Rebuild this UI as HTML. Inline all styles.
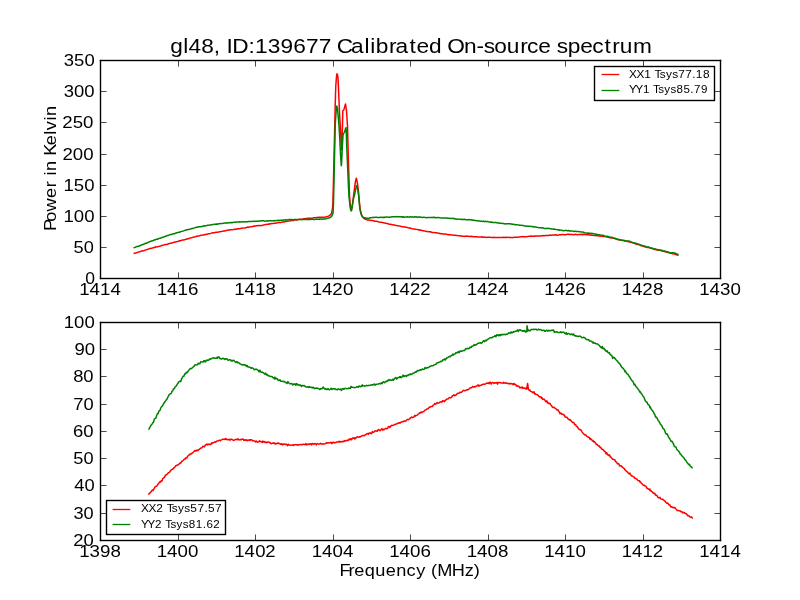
<!DOCTYPE html>
<html><head><meta charset="utf-8"><title>gl48 spectrum</title>
<style>html,body{margin:0;padding:0;background:#fff;}svg{display:block;will-change:transform;}text{font-family:"Liberation Sans",sans-serif;fill:#000;}</style>
</head><body>
<svg width="800" height="600" viewBox="0 0 800 600">
<rect width="800" height="600" fill="#fff"/>
<g fill="none" stroke-width="1.5" stroke-linejoin="round" stroke-linecap="butt">
<path stroke="#f00" d="M133.50,253.45 L134.50,253.25 L135.50,252.95 L136.50,252.72 L137.50,252.36 L138.50,252.00 L139.50,251.81 L140.50,251.38 L141.50,251.04 L142.50,251.03 L143.50,250.67 L144.50,250.42 L145.50,249.89 L146.50,249.75 L147.50,249.41 L148.50,249.06 L149.50,248.58 L150.50,248.50 L151.50,248.34 L152.50,247.99 L153.50,247.61 L154.50,247.42 L155.00,247.39 L155.50,246.85 L156.50,246.90 L157.50,246.71 L158.50,246.45 L159.50,246.30 L160.50,245.96 L161.50,245.59 L162.50,245.33 L163.50,245.13 L164.50,244.71 L165.50,244.52 L166.50,244.39 L167.50,244.26 L168.50,243.75 L169.50,243.51 L170.50,243.27 L171.50,243.14 L172.50,242.70 L173.50,242.62 L174.50,242.06 L175.50,241.90 L176.50,241.64 L177.50,241.51 L178.50,241.30 L179.50,240.75 L180.00,240.70 L180.50,240.72 L181.50,240.34 L182.50,239.97 L183.50,240.02 L184.50,239.69 L185.50,239.43 L186.50,239.05 L187.50,238.97 L188.50,238.55 L189.50,238.43 L190.50,237.91 L191.50,237.63 L192.50,237.47 L193.50,237.09 L194.50,236.99 L195.50,236.69 L196.50,236.30 L197.50,236.18 L198.50,235.88 L199.50,235.78 L200.50,235.35 L201.50,235.14 L202.50,235.12 L203.50,235.04 L204.50,234.82 L205.00,234.51 L205.50,234.44 L206.50,234.40 L207.50,234.00 L208.50,233.70 L209.50,233.63 L210.50,233.46 L211.50,233.11 L212.50,232.81 L213.50,232.64 L214.50,232.70 L215.50,232.36 L216.50,232.26 L217.50,232.15 L218.50,232.04 L219.50,231.77 L220.50,231.71 L221.50,231.37 L222.50,231.25 L223.50,230.98 L224.50,231.04 L225.50,230.69 L226.50,230.40 L227.50,230.25 L228.50,230.08 L229.50,230.03 L230.00,229.69 L230.50,229.70 L231.50,229.65 L232.50,229.87 L233.50,229.55 L234.50,229.28 L235.50,229.23 L236.50,229.24 L237.50,228.81 L238.50,228.64 L239.50,228.67 L240.50,228.42 L241.50,228.28 L242.50,227.99 L243.50,228.12 L244.50,227.95 L245.50,227.67 L246.50,227.54 L247.50,227.07 L248.50,227.23 L249.50,226.96 L250.50,226.86 L251.50,226.72 L252.50,226.43 L253.50,226.10 L254.50,226.20 L255.00,226.01 L255.50,226.00 L256.50,225.85 L257.50,225.76 L258.50,225.40 L259.50,225.70 L260.50,225.46 L261.50,225.43 L262.50,225.39 L263.50,225.01 L264.50,224.63 L265.50,224.58 L266.50,224.38 L267.50,224.29 L268.50,224.19 L269.50,223.78 L270.50,223.91 L271.50,223.53 L272.50,223.61 L273.50,223.42 L274.50,223.26 L275.50,223.15 L276.50,222.94 L277.50,222.78 L278.50,222.48 L279.50,222.51 L280.00,222.65 L280.50,222.58 L281.50,222.34 L282.50,222.11 L283.50,221.79 L284.50,221.90 L285.50,221.57 L286.50,221.42 L287.50,221.24 L288.50,221.12 L289.50,220.89 L290.50,220.76 L291.50,220.47 L292.50,220.39 L293.50,220.55 L294.50,220.12 L295.50,219.96 L296.50,219.90 L297.50,219.78 L298.50,219.41 L299.50,219.37 L300.50,219.36 L301.50,219.15 L302.50,219.01 L303.50,219.07 L304.50,218.69 L305.00,218.73 L305.50,218.60 L306.50,218.74 L307.50,218.22 L308.50,218.27 L309.50,218.19 L310.50,218.23 L311.50,218.13 L312.50,218.13 L313.50,217.67 L314.50,217.85 L315.50,217.63 L316.50,217.50 L317.50,217.57 L318.50,217.33 L319.50,217.13 L320.00,217.32 L320.50,217.16 L321.50,217.22 L322.50,217.30 L323.50,217.24 L324.50,217.34 L325.50,217.05 L326.00,216.85 L326.50,216.87 L327.50,216.56 L328.50,216.10 L329.00,216.03 L329.50,215.59 L330.50,214.63 L331.50,213.54 L332.50,208.03 L332.80,204.94 L333.50,179.63 L333.70,170.95 L334.50,136.87 L335.20,106.02 L335.50,94.30 L335.80,85.91 L336.50,76.43 L337.00,73.67 L337.50,74.95 L338.00,77.81 L338.50,88.05 L338.80,95.69 L339.50,112.03 L339.70,115.89 L340.30,125.74 L340.50,129.96 L341.50,149.85 L342.50,125.88 L342.80,110.82 L343.50,110.23 L343.80,109.89 L344.50,107.49 L345.50,103.93 L346.50,111.02 L347.50,126.14 L348.40,160.32 L348.50,163.50 L349.50,195.92 L350.50,207.41 L351.20,210.56 L351.50,209.91 L352.50,204.11 L353.50,196.10 L353.70,194.62 L354.50,188.56 L355.50,181.07 L356.30,178.25 L356.50,178.48 L357.50,183.62 L358.50,191.78 L359.50,203.28 L360.00,207.62 L360.50,210.39 L361.50,214.56 L362.50,216.89 L362.60,216.98 L363.50,217.89 L364.50,218.89 L365.50,219.29 L366.00,219.40 L366.50,219.58 L367.50,220.07 L368.50,220.08 L369.50,220.32 L370.50,220.24 L371.50,220.53 L372.50,220.50 L373.50,220.74 L374.50,221.26 L375.50,221.27 L376.50,221.33 L377.50,221.59 L378.50,221.85 L379.50,222.15 L380.50,222.13 L381.50,222.16 L382.50,222.51 L383.50,222.74 L384.50,222.95 L385.00,223.20 L385.50,223.20 L386.50,223.48 L387.50,223.48 L388.50,223.93 L389.50,224.30 L390.50,224.34 L391.50,224.48 L392.50,224.66 L393.50,225.06 L394.50,224.95 L395.50,225.26 L396.50,225.54 L397.50,225.78 L398.50,225.84 L399.50,226.13 L400.50,226.25 L401.50,226.49 L402.50,226.65 L403.50,226.73 L404.50,227.06 L405.50,227.37 L406.50,227.34 L407.50,227.62 L408.50,227.92 L409.50,227.91 L410.00,228.15 L410.50,228.08 L411.50,228.54 L412.50,228.87 L413.50,229.03 L414.50,228.95 L415.50,229.26 L416.50,229.38 L417.50,229.57 L418.50,229.94 L419.50,229.79 L420.50,230.28 L421.50,230.36 L422.50,230.74 L423.50,230.80 L424.50,230.89 L425.50,231.19 L426.50,231.43 L427.50,231.51 L428.50,231.73 L429.50,231.78 L430.50,231.76 L431.50,232.28 L432.50,232.41 L433.50,232.49 L434.50,232.61 L435.00,232.79 L435.50,232.67 L436.50,232.80 L437.50,233.03 L438.50,233.37 L439.50,233.24 L440.50,233.72 L441.50,233.67 L442.50,233.75 L443.50,234.16 L444.50,234.11 L445.50,234.07 L446.50,234.28 L447.50,234.54 L448.50,234.68 L449.50,234.60 L450.50,234.81 L451.50,234.96 L452.50,234.92 L453.50,235.15 L454.50,235.22 L455.50,235.28 L456.50,235.41 L457.50,235.59 L458.50,235.70 L459.50,235.73 L460.00,235.80 L460.50,236.04 L461.50,236.01 L462.50,236.15 L463.50,236.23 L464.50,236.18 L465.50,236.41 L466.50,236.07 L467.50,236.31 L468.50,236.23 L469.50,236.55 L470.50,236.60 L471.50,236.24 L472.50,236.43 L473.50,236.70 L474.50,236.80 L475.50,236.87 L476.50,236.83 L477.50,236.95 L478.50,237.01 L479.50,236.96 L480.50,237.13 L481.50,236.78 L482.50,237.18 L483.50,237.05 L484.50,237.35 L485.00,237.25 L485.50,237.20 L486.50,237.39 L487.50,237.25 L488.50,237.25 L489.50,237.17 L490.50,237.35 L491.50,237.41 L492.50,237.48 L493.50,237.36 L494.50,237.53 L495.50,237.43 L496.50,237.43 L497.50,237.52 L498.50,237.58 L499.50,237.41 L500.50,237.42 L501.50,237.43 L502.50,237.45 L503.50,237.31 L504.50,237.52 L505.50,237.33 L506.50,237.41 L507.50,237.24 L508.50,237.38 L509.50,237.38 L510.00,237.29 L510.50,237.59 L511.50,237.38 L512.50,237.53 L513.50,237.40 L514.50,237.18 L515.50,237.18 L516.50,237.24 L517.50,237.14 L518.50,237.08 L519.50,236.98 L520.50,236.74 L521.50,236.88 L522.50,236.59 L523.50,236.86 L524.50,236.68 L525.50,236.63 L526.50,236.63 L527.50,236.62 L528.50,236.35 L529.50,236.24 L530.50,236.25 L531.50,236.07 L532.50,236.14 L533.50,236.39 L534.50,236.02 L535.00,236.20 L535.50,235.94 L536.50,236.09 L537.50,235.96 L538.50,235.94 L539.50,235.96 L540.50,236.05 L541.50,235.80 L542.50,235.73 L543.50,235.53 L544.50,235.65 L545.50,235.48 L546.50,235.55 L547.50,235.39 L548.50,235.55 L549.50,235.05 L550.50,235.20 L551.50,235.30 L552.50,235.10 L553.50,235.00 L554.50,235.01 L555.50,234.82 L556.50,234.94 L557.50,235.16 L558.50,234.96 L559.50,234.64 L560.00,234.64 L560.50,234.68 L561.50,234.80 L562.50,234.54 L563.50,234.52 L564.50,234.67 L565.50,234.64 L566.50,234.47 L567.50,234.37 L568.50,234.31 L568.75,234.41 L569.50,234.21 L570.50,234.56 L571.50,234.38 L572.50,234.51 L573.50,234.68 L574.50,234.61 L575.50,234.35 L576.50,234.60 L577.50,234.65 L578.50,234.42 L579.50,234.40 L580.50,234.50 L581.50,234.32 L582.50,234.71 L583.50,234.27 L584.50,234.47 L585.50,234.62 L586.25,234.66 L586.50,234.72 L587.50,234.81 L588.50,234.84 L589.50,235.10 L590.50,234.83 L591.50,235.21 L592.50,235.24 L593.50,235.46 L594.50,235.58 L595.00,235.49 L595.50,235.57 L596.50,235.82 L597.50,235.84 L598.50,235.77 L599.50,236.15 L600.50,236.24 L601.50,235.87 L602.00,236.12 L602.50,236.45 L603.50,236.39 L604.50,236.50 L605.50,236.65 L606.50,236.83 L607.50,237.10 L608.50,237.29 L609.50,237.66 L610.50,237.73 L611.50,237.92 L612.50,238.03 L613.50,238.37 L614.50,238.51 L615.50,238.85 L616.50,239.27 L617.50,239.46 L618.50,239.74 L619.50,239.96 L620.00,240.03 L620.50,240.11 L621.50,240.29 L622.50,240.61 L623.50,240.58 L624.50,241.05 L625.50,241.08 L626.50,241.17 L627.50,241.40 L628.50,241.60 L628.75,241.76 L629.50,241.84 L630.50,242.35 L631.50,242.42 L632.50,242.55 L633.50,243.06 L634.50,243.22 L635.50,243.77 L636.50,244.22 L637.50,244.47 L638.50,244.54 L639.50,244.92 L640.50,245.54 L641.50,245.68 L642.50,245.96 L643.50,246.39 L644.50,246.86 L645.50,247.01 L646.25,247.09 L646.50,247.19 L647.50,247.50 L648.50,247.62 L649.50,247.82 L650.50,248.21 L651.50,248.34 L652.50,248.69 L653.50,248.96 L654.50,249.49 L655.00,249.23 L655.50,249.45 L656.50,249.69 L657.50,250.01 L658.50,250.31 L659.50,250.34 L660.50,250.52 L661.50,250.63 L662.50,250.94 L663.50,251.36 L663.75,251.37 L664.50,251.46 L665.50,251.81 L666.50,252.14 L667.50,252.48 L668.50,252.61 L669.50,252.90 L670.50,252.95 L671.50,253.26 L672.50,253.82 L673.50,253.62 L674.50,254.11 L675.50,254.47 L676.50,254.70 L677.50,254.97 L678.50,255.38 L678.60,255.42"/>
<path stroke="#008000" d="M133.50,247.85 L134.50,247.63 L135.50,247.20 L136.50,246.51 L137.50,246.46 L138.50,246.19 L139.50,245.79 L140.50,245.54 L141.50,244.96 L142.50,244.55 L143.50,244.47 L144.50,243.79 L145.50,243.23 L146.50,243.30 L147.50,242.63 L148.50,242.28 L149.50,241.71 L150.50,241.33 L151.50,240.97 L152.50,240.72 L153.50,240.49 L154.50,239.75 L155.00,240.06 L155.50,239.62 L156.50,239.31 L157.50,239.23 L158.50,238.78 L159.50,238.21 L160.50,238.37 L161.50,237.61 L162.50,237.41 L163.50,237.03 L164.50,236.84 L165.50,236.19 L166.50,236.04 L167.50,235.43 L168.50,235.38 L169.50,234.79 L170.50,234.54 L171.50,234.58 L172.50,234.04 L173.50,233.71 L174.50,233.73 L175.50,233.16 L176.50,232.71 L177.50,232.68 L178.50,232.13 L179.50,232.22 L180.00,232.10 L180.50,231.69 L181.50,231.38 L182.50,231.19 L183.50,230.85 L184.50,230.40 L185.50,230.35 L186.50,229.68 L187.50,229.66 L188.50,229.42 L189.50,229.19 L190.50,229.04 L191.50,228.56 L192.50,228.57 L193.50,228.19 L194.50,227.84 L195.50,227.46 L196.50,227.22 L197.50,227.20 L198.50,226.78 L199.50,226.73 L200.50,226.69 L201.50,226.51 L202.50,226.41 L203.50,225.96 L204.50,225.66 L205.00,225.89 L205.50,225.70 L206.50,225.65 L207.50,225.31 L208.50,225.33 L209.50,225.11 L210.50,224.94 L211.50,224.76 L212.50,224.61 L213.50,224.46 L214.50,224.34 L215.50,224.33 L216.50,223.99 L217.50,224.21 L218.50,223.81 L219.50,223.85 L220.50,223.56 L221.50,223.42 L222.50,223.64 L223.50,223.17 L224.50,222.91 L225.50,222.88 L226.50,222.84 L227.50,223.13 L228.50,222.76 L229.50,222.80 L230.00,222.48 L230.50,222.65 L231.50,222.60 L232.50,222.67 L233.50,222.19 L234.50,222.30 L235.50,222.18 L236.50,221.93 L237.50,222.05 L238.50,222.00 L239.50,221.68 L240.50,222.09 L241.50,222.04 L242.50,221.84 L243.50,221.64 L244.50,221.99 L245.50,221.74 L246.50,221.79 L247.50,221.79 L248.50,221.45 L249.50,221.60 L250.50,221.39 L251.50,221.38 L252.50,221.33 L253.50,221.31 L254.50,221.44 L255.00,221.27 L255.50,221.21 L256.50,221.13 L257.50,221.17 L258.50,220.92 L259.50,220.93 L260.50,220.94 L261.50,220.83 L262.50,220.87 L263.50,220.78 L264.50,221.16 L265.50,221.04 L266.50,220.89 L267.50,220.79 L268.50,221.10 L269.50,220.78 L270.50,220.69 L271.50,220.72 L272.50,220.70 L273.50,220.84 L274.50,220.60 L275.50,220.89 L276.50,220.39 L277.50,220.57 L278.50,220.25 L279.50,220.61 L280.00,220.25 L280.50,220.26 L281.50,220.36 L282.50,220.36 L283.50,219.95 L284.50,220.00 L285.50,219.77 L286.50,219.92 L287.50,219.81 L288.50,219.70 L289.50,219.59 L290.50,219.58 L291.50,219.49 L292.50,219.67 L293.50,219.81 L294.50,219.31 L295.50,219.60 L296.50,219.57 L297.50,219.71 L298.50,219.49 L299.50,219.60 L300.50,219.44 L301.50,219.68 L302.50,219.56 L303.50,219.48 L304.50,219.52 L305.00,219.40 L305.50,219.18 L306.50,219.48 L307.50,219.42 L308.50,219.35 L309.50,219.52 L310.50,219.56 L311.50,219.22 L312.50,219.26 L313.50,219.60 L314.50,219.55 L315.50,219.20 L316.50,219.11 L317.50,219.16 L318.50,219.17 L319.50,219.00 L320.00,219.26 L320.50,219.08 L321.50,219.06 L322.50,219.32 L323.50,218.98 L324.50,218.94 L325.50,218.88 L326.00,218.82 L326.50,218.53 L327.50,218.37 L328.50,217.95 L329.50,217.97 L330.50,217.31 L331.50,216.40 L332.50,214.71 L333.10,212.24 L333.50,202.80 L334.20,171.45 L334.50,156.94 L335.20,126.06 L335.50,120.17 L336.50,106.74 L336.80,105.99 L337.50,108.80 L338.50,119.89 L339.00,125.87 L339.50,133.84 L340.30,149.82 L340.50,153.82 L341.30,165.74 L341.50,164.45 L342.20,150.03 L342.50,143.68 L343.00,135.34 L343.50,133.67 L344.50,132.12 L345.50,128.62 L346.10,127.58 L346.50,138.29 L346.70,145.33 L347.50,164.44 L347.80,170.71 L348.50,187.74 L349.00,196.57 L349.50,201.49 L350.50,209.17 L351.20,210.85 L351.50,210.75 L352.50,204.64 L353.20,200.13 L353.50,198.61 L354.50,195.13 L354.60,195.02 L355.50,190.05 L356.50,185.63 L356.60,185.69 L357.50,188.13 L358.50,194.95 L358.70,196.39 L359.50,205.45 L360.00,209.61 L360.50,212.09 L361.50,215.32 L362.50,216.60 L362.60,216.67 L363.50,217.51 L364.50,217.84 L365.50,217.87 L366.00,218.41 L366.50,218.34 L367.50,218.19 L368.50,218.45 L369.50,217.99 L370.50,217.67 L371.50,217.64 L372.50,217.38 L373.50,217.37 L374.50,217.51 L375.50,217.34 L376.50,217.32 L377.50,217.61 L378.50,217.45 L379.50,217.41 L380.50,217.34 L381.50,217.32 L382.50,217.46 L383.50,217.25 L384.50,217.54 L385.00,217.12 L385.50,217.22 L386.50,217.00 L387.50,217.10 L388.50,217.17 L389.50,217.24 L390.50,216.88 L391.50,216.94 L392.50,216.85 L393.50,216.77 L394.50,216.68 L395.50,216.85 L396.50,216.58 L397.50,216.86 L398.50,216.86 L399.50,216.78 L400.50,216.74 L401.50,216.71 L402.50,217.22 L403.50,216.77 L404.50,217.23 L405.50,217.11 L406.50,216.96 L407.50,216.82 L408.50,217.11 L409.50,217.16 L410.00,216.72 L410.50,216.78 L411.50,216.97 L412.50,216.87 L413.50,217.15 L414.50,216.81 L415.50,217.02 L416.50,216.81 L417.50,217.38 L418.50,217.02 L419.50,216.86 L420.50,217.23 L421.50,217.27 L422.50,217.62 L423.50,217.30 L424.50,217.37 L425.50,217.49 L426.50,217.66 L427.50,217.43 L428.50,217.62 L429.50,217.55 L430.50,217.43 L431.50,217.48 L432.50,217.46 L433.50,217.32 L434.50,217.64 L435.00,217.25 L435.50,217.65 L436.50,217.68 L437.50,217.58 L438.50,217.56 L439.50,217.71 L440.50,217.88 L441.50,217.98 L442.50,217.96 L443.50,218.11 L444.50,217.92 L445.50,218.08 L446.50,217.87 L447.50,218.28 L448.50,218.26 L449.50,218.26 L450.50,218.58 L451.50,218.60 L452.50,218.16 L453.50,218.68 L454.50,218.55 L455.50,219.02 L456.50,219.32 L457.50,218.95 L458.50,219.13 L459.50,219.16 L460.00,219.28 L460.50,219.35 L461.50,219.51 L462.50,219.23 L463.50,219.66 L464.50,219.32 L465.50,219.54 L466.50,219.71 L467.50,219.70 L468.50,219.52 L469.50,219.65 L470.50,219.78 L471.50,219.96 L472.50,220.26 L473.50,220.01 L474.50,220.41 L475.50,220.55 L476.50,220.67 L477.50,220.77 L478.50,221.05 L479.50,221.01 L480.50,221.19 L481.50,221.26 L482.50,221.55 L483.50,221.11 L484.50,221.69 L485.00,221.50 L485.50,221.55 L486.50,221.55 L487.50,221.51 L488.50,221.84 L489.50,221.89 L490.50,222.17 L491.50,221.97 L492.50,222.50 L493.50,222.43 L494.50,222.46 L495.50,222.52 L496.50,222.65 L497.50,222.75 L498.50,222.98 L499.50,223.21 L500.50,223.31 L501.50,223.23 L502.50,223.49 L503.50,223.47 L504.50,223.69 L505.50,224.00 L506.50,223.86 L507.50,223.77 L508.50,223.63 L509.50,223.73 L510.00,223.71 L510.50,224.11 L511.50,223.99 L512.50,224.23 L513.50,224.25 L514.50,224.49 L515.50,224.83 L516.50,224.65 L517.50,224.85 L518.50,224.92 L519.50,225.31 L520.50,225.17 L521.50,225.29 L522.50,225.38 L523.50,225.50 L524.50,225.90 L525.50,226.32 L526.50,225.89 L527.50,226.27 L528.50,226.25 L529.50,226.13 L530.50,226.35 L531.50,226.46 L532.50,226.51 L533.50,227.04 L534.50,226.61 L535.00,227.04 L535.50,227.12 L536.50,227.14 L537.50,227.39 L538.50,227.63 L539.50,227.65 L540.50,227.81 L541.50,227.95 L542.50,227.65 L543.50,228.27 L544.50,228.50 L545.50,228.41 L546.50,228.53 L547.50,228.28 L548.50,228.59 L549.50,228.60 L550.50,228.75 L551.50,229.10 L552.50,228.95 L553.50,229.18 L554.50,229.05 L555.50,229.45 L556.50,229.62 L557.50,229.63 L558.50,229.76 L559.50,230.29 L560.00,229.91 L560.50,230.01 L561.50,230.16 L562.50,230.56 L563.50,230.77 L564.50,230.56 L565.50,230.44 L566.50,230.52 L567.50,230.79 L568.50,230.55 L569.50,230.97 L570.50,231.04 L571.50,230.93 L572.50,231.10 L573.50,231.21 L574.50,231.43 L575.50,231.14 L576.50,231.58 L577.50,231.46 L578.50,231.51 L579.50,231.77 L580.50,231.86 L581.50,231.88 L582.50,231.94 L583.50,232.20 L584.50,232.72 L585.50,232.97 L586.50,232.93 L587.50,233.16 L588.50,233.05 L589.50,233.24 L590.50,233.41 L591.50,233.33 L592.50,233.47 L593.50,233.78 L594.50,233.88 L595.00,233.85 L595.50,234.16 L596.50,234.24 L597.50,234.60 L598.50,234.63 L599.50,234.76 L600.50,235.01 L601.50,235.16 L602.50,235.29 L603.50,235.55 L604.50,235.94 L605.50,236.15 L606.50,236.47 L607.50,236.25 L608.50,236.66 L609.50,236.87 L610.50,237.17 L611.50,237.31 L612.50,237.54 L613.50,238.00 L614.50,238.19 L615.50,238.29 L616.50,238.97 L617.50,239.22 L618.50,239.28 L619.50,239.76 L620.00,239.65 L620.50,240.05 L621.50,240.05 L622.50,240.14 L623.50,240.37 L624.50,240.47 L625.50,240.77 L626.50,240.94 L627.50,241.11 L628.50,241.24 L628.75,240.82 L629.50,241.56 L630.50,241.52 L631.50,242.12 L632.50,242.54 L633.50,242.71 L634.50,242.91 L635.50,243.25 L636.50,243.57 L637.50,243.81 L638.50,244.11 L639.50,244.38 L640.50,245.02 L641.50,245.16 L642.50,245.62 L643.50,245.75 L644.50,246.10 L645.50,246.36 L646.25,246.66 L646.50,246.78 L647.50,246.96 L648.50,247.08 L649.50,247.32 L650.50,247.95 L651.50,247.92 L652.50,248.17 L653.50,248.70 L654.50,248.90 L655.00,248.95 L655.50,248.93 L656.50,249.59 L657.50,249.53 L658.50,249.78 L659.50,249.91 L660.50,249.96 L661.50,250.23 L662.50,250.76 L663.50,251.03 L663.75,251.03 L664.50,251.08 L665.50,251.28 L666.50,251.67 L667.50,251.70 L668.50,252.25 L669.50,252.48 L670.50,252.93 L671.50,252.84 L672.50,252.83 L673.50,253.02 L674.50,252.86 L675.50,253.53 L676.50,253.84 L677.50,254.28 L678.50,254.49 L678.60,254.51"/>
<path stroke="#f00" d="M148.40,494.62 L149.20,493.53 L150.00,492.89 L150.80,492.04 L151.60,491.02 L152.40,490.01 L153.20,490.44 L154.00,488.71 L154.80,487.47 L155.00,486.92 L155.60,486.52 L156.40,486.29 L157.20,485.43 L158.00,484.12 L158.80,483.36 L159.60,482.33 L160.00,481.52 L160.40,482.16 L161.20,480.85 L162.00,480.90 L162.80,478.55 L163.60,477.94 L164.40,477.51 L165.00,476.34 L165.20,475.57 L166.00,474.90 L166.80,474.51 L167.60,473.77 L168.40,472.74 L169.20,472.41 L170.00,471.61 L170.00,471.30 L170.80,470.42 L171.60,469.58 L172.40,469.26 L173.20,468.76 L174.00,467.73 L174.80,467.26 L175.00,466.78 L175.60,465.80 L176.40,465.33 L177.20,465.47 L178.00,464.67 L178.80,464.53 L179.60,463.19 L180.00,463.25 L180.40,463.16 L181.20,462.40 L182.00,461.06 L182.80,460.62 L183.60,460.11 L184.40,458.93 L185.00,459.05 L185.20,459.08 L186.00,457.67 L186.80,458.04 L187.60,456.29 L188.40,455.62 L189.20,454.91 L190.00,454.03 L190.00,454.54 L190.80,453.73 L191.60,453.87 L192.40,452.83 L193.20,452.28 L194.00,451.47 L194.80,450.51 L195.00,451.10 L195.60,450.49 L196.40,450.92 L197.20,450.09 L198.00,450.45 L198.80,449.61 L199.60,449.20 L200.00,448.65 L200.40,448.32 L201.20,448.00 L202.00,447.60 L202.80,446.34 L203.60,446.38 L204.40,446.87 L205.20,445.21 L206.00,444.75 L206.25,444.46 L206.80,443.94 L207.60,444.88 L208.40,444.15 L209.20,444.04 L210.00,444.52 L210.80,444.58 L211.60,442.79 L212.40,443.38 L212.50,443.14 L213.20,442.73 L214.00,442.40 L214.80,441.81 L215.60,442.17 L216.40,441.38 L217.20,440.94 L218.00,441.06 L218.75,440.66 L218.80,440.40 L219.60,440.16 L220.40,440.65 L221.20,439.96 L222.00,439.59 L222.80,439.16 L223.60,439.32 L224.40,438.97 L225.00,439.49 L225.20,439.60 L226.00,438.57 L226.80,439.52 L227.60,439.83 L228.40,439.65 L229.20,439.17 L230.00,440.20 L230.80,439.34 L231.25,439.14 L231.60,439.24 L232.40,439.75 L233.20,440.22 L234.00,440.33 L234.80,439.91 L235.60,439.28 L236.40,439.51 L237.20,439.37 L237.50,439.64 L238.00,438.86 L238.80,439.67 L239.60,439.88 L240.40,439.51 L241.20,439.81 L242.00,439.22 L242.80,439.05 L243.60,439.49 L243.75,440.31 L244.40,440.31 L245.20,439.70 L246.00,440.49 L246.80,439.83 L247.60,440.68 L248.40,440.25 L249.20,439.87 L250.00,440.49 L250.00,439.78 L250.80,439.83 L251.60,439.74 L252.40,440.68 L253.20,440.72 L254.00,440.89 L254.80,440.92 L255.60,441.91 L256.25,441.20 L256.40,441.10 L257.20,442.07 L258.00,442.21 L258.80,441.77 L259.60,440.86 L260.40,441.41 L261.20,441.98 L262.00,441.75 L262.50,442.43 L262.80,441.10 L263.60,442.07 L264.40,441.55 L265.20,442.53 L266.00,442.01 L266.80,442.65 L267.60,442.06 L268.40,441.88 L268.75,442.12 L269.20,442.45 L270.00,442.40 L270.80,443.52 L271.60,443.68 L272.40,443.29 L273.20,442.78 L274.00,443.26 L274.80,443.08 L275.00,444.05 L275.60,443.60 L276.40,443.76 L277.20,443.45 L278.00,442.82 L278.80,443.48 L279.60,443.43 L280.40,444.19 L281.20,444.15 L281.25,443.76 L282.00,444.00 L282.80,444.95 L283.60,443.88 L284.40,443.98 L285.20,444.39 L286.00,444.29 L286.80,444.54 L287.50,445.09 L287.60,445.71 L288.40,444.23 L289.20,445.10 L290.00,445.18 L290.80,445.15 L291.60,445.10 L292.40,444.99 L293.20,445.54 L293.75,444.79 L294.00,444.86 L294.80,444.84 L295.60,444.83 L296.40,444.68 L297.20,445.20 L298.00,444.78 L298.80,444.91 L299.60,444.84 L300.00,444.45 L300.40,444.53 L301.20,444.40 L302.00,444.89 L302.80,444.39 L303.60,444.14 L304.40,444.62 L305.20,444.64 L306.00,443.51 L306.80,444.98 L307.60,444.15 L308.40,444.02 L309.20,444.49 L310.00,444.00 L310.80,443.68 L311.60,444.93 L312.40,443.46 L313.20,443.90 L314.00,444.33 L314.80,443.46 L315.60,443.89 L316.00,444.11 L316.40,445.02 L317.20,443.52 L318.00,443.88 L318.80,444.18 L319.60,443.90 L320.40,443.30 L321.20,443.99 L322.00,443.80 L322.80,443.88 L323.60,444.10 L324.40,443.94 L325.20,443.56 L326.00,443.40 L326.80,442.65 L327.60,442.97 L328.40,443.03 L329.20,442.66 L330.00,442.79 L330.80,442.30 L331.60,443.28 L332.00,443.53 L332.40,442.37 L333.20,442.65 L334.00,442.28 L334.80,442.88 L335.60,442.43 L336.40,442.19 L337.20,441.97 L338.00,442.04 L338.80,441.43 L339.60,442.07 L340.00,441.40 L340.40,441.92 L341.20,441.62 L342.00,441.94 L342.80,441.33 L343.60,441.67 L344.40,440.65 L345.20,441.18 L346.00,440.61 L346.80,440.59 L347.60,440.31 L348.40,440.47 L349.20,438.91 L350.00,439.74 L350.80,438.71 L351.60,439.71 L352.40,438.07 L353.20,438.29 L354.00,437.77 L354.80,439.04 L355.00,437.67 L355.60,438.12 L356.40,437.58 L357.20,436.76 L358.00,437.15 L358.80,437.33 L359.60,436.67 L360.40,436.90 L361.20,436.03 L362.00,435.90 L362.80,435.42 L363.60,435.43 L364.40,435.82 L365.20,434.82 L366.00,434.45 L366.80,433.82 L367.60,433.53 L368.40,434.33 L369.20,432.99 L370.00,432.90 L370.00,433.30 L370.80,432.91 L371.60,433.70 L372.40,431.43 L373.20,432.31 L374.00,432.10 L374.80,430.92 L375.60,430.81 L376.40,430.99 L377.20,431.27 L378.00,429.91 L378.80,429.43 L379.60,430.43 L380.40,430.55 L381.20,429.59 L382.00,428.62 L382.80,430.13 L383.60,429.22 L384.40,429.60 L385.00,428.89 L385.20,428.66 L386.00,428.30 L386.80,428.81 L387.60,428.42 L388.40,426.43 L389.20,426.59 L390.00,427.44 L390.80,426.12 L391.60,425.34 L392.40,425.62 L393.20,425.25 L394.00,424.93 L394.80,424.44 L395.60,424.20 L396.40,423.82 L397.20,423.87 L398.00,423.05 L398.80,422.98 L399.60,422.74 L400.00,423.22 L400.40,422.62 L401.20,422.06 L402.00,421.99 L402.80,421.59 L403.60,421.56 L404.40,420.98 L405.20,421.26 L406.00,420.77 L406.80,419.86 L407.60,419.40 L408.40,419.68 L409.20,419.18 L410.00,418.56 L410.80,417.56 L411.60,416.99 L412.40,417.55 L413.20,417.30 L414.00,416.88 L414.80,415.50 L415.00,416.44 L415.60,415.45 L416.40,415.49 L417.20,415.13 L418.00,414.21 L418.80,413.91 L419.60,412.82 L420.40,412.89 L421.20,412.00 L422.00,412.49 L422.80,411.78 L423.60,411.62 L424.40,410.84 L425.20,409.89 L426.00,409.83 L426.80,409.01 L427.60,408.98 L428.40,408.35 L429.20,407.25 L430.00,407.18 L430.00,407.14 L430.80,406.46 L431.60,406.51 L432.40,406.42 L433.20,405.05 L434.00,404.66 L434.80,403.44 L435.60,404.05 L436.40,403.58 L437.20,402.49 L438.00,403.29 L438.80,403.13 L439.60,402.25 L440.40,402.13 L441.20,401.58 L442.00,402.07 L442.80,400.74 L443.60,400.95 L444.40,401.62 L445.00,400.47 L445.20,400.54 L446.00,399.82 L446.80,398.89 L447.60,398.94 L448.40,398.68 L449.20,397.58 L450.00,397.75 L450.80,397.73 L451.60,397.24 L452.40,395.66 L453.20,395.55 L454.00,394.89 L454.80,395.73 L455.60,395.15 L456.40,394.81 L457.20,393.70 L458.00,393.16 L458.80,393.30 L459.60,392.89 L460.00,392.22 L460.40,392.45 L461.20,392.32 L462.00,391.80 L462.80,390.93 L463.60,390.17 L464.40,390.74 L465.20,390.65 L466.00,390.17 L466.25,390.01 L466.80,389.65 L467.60,389.93 L468.40,389.20 L469.20,388.89 L470.00,387.99 L470.80,387.74 L471.60,387.70 L472.40,386.79 L472.50,386.58 L473.20,386.72 L474.00,387.14 L474.80,386.46 L475.60,386.83 L476.40,385.94 L477.20,385.70 L478.00,385.06 L478.75,385.28 L478.80,386.21 L479.60,385.52 L480.40,385.50 L481.20,385.25 L482.00,384.69 L482.80,384.35 L483.60,384.25 L484.40,384.28 L485.00,384.02 L485.20,383.97 L486.00,383.66 L486.80,383.10 L487.60,383.21 L488.40,382.81 L489.20,383.60 L490.00,382.14 L490.80,382.93 L491.25,384.09 L491.60,382.86 L492.40,382.43 L493.20,382.86 L494.00,383.38 L494.80,382.68 L495.60,382.99 L496.40,382.74 L497.20,382.52 L497.50,384.12 L498.00,382.74 L498.80,382.45 L499.60,382.47 L500.40,382.87 L501.20,382.91 L502.00,383.12 L502.80,382.91 L503.60,382.30 L503.75,383.24 L504.40,382.97 L505.20,383.13 L506.00,382.74 L506.80,383.30 L507.60,383.37 L508.40,383.80 L509.20,383.25 L510.00,384.01 L510.00,383.93 L510.80,383.44 L511.60,383.77 L512.40,383.80 L513.20,384.78 L514.00,383.46 L514.80,384.71 L515.60,384.42 L516.25,385.27 L516.40,385.99 L517.20,385.67 L518.00,386.35 L518.80,386.22 L519.60,387.76 L520.40,387.55 L521.20,387.88 L522.00,387.00 L522.50,387.21 L522.80,388.24 L523.60,387.88 L524.40,388.09 L525.20,388.60 L526.00,388.14 L526.25,389.10 L526.80,388.94 L527.60,383.46 L528.40,389.28 L529.20,390.18 L530.00,390.05 L530.00,390.82 L530.80,391.38 L531.60,391.80 L532.40,392.17 L533.20,392.78 L534.00,391.84 L534.80,393.98 L535.00,393.64 L535.60,394.18 L536.40,394.48 L537.20,394.44 L538.00,395.28 L538.80,396.28 L539.60,397.10 L540.40,396.68 L541.20,397.07 L541.25,398.14 L542.00,397.60 L542.80,399.50 L543.60,399.16 L544.40,399.32 L545.20,400.75 L546.00,401.67 L546.80,400.87 L547.50,402.76 L547.60,402.04 L548.40,403.48 L549.20,403.29 L550.00,403.41 L550.80,405.00 L551.60,405.83 L552.40,407.01 L553.20,407.50 L553.75,407.51 L554.00,407.34 L554.80,407.91 L555.60,408.72 L556.40,409.19 L557.20,410.14 L558.00,409.80 L558.80,411.69 L559.60,412.24 L560.00,413.70 L560.40,413.18 L561.20,413.23 L562.00,414.31 L562.80,414.11 L563.60,415.00 L564.40,415.03 L565.20,417.11 L566.00,417.32 L566.80,417.11 L567.60,418.19 L568.40,419.23 L569.20,419.62 L570.00,420.19 L570.00,419.60 L570.80,420.36 L571.60,421.37 L572.40,422.44 L573.20,422.37 L574.00,422.96 L574.80,424.72 L575.60,424.55 L576.40,426.24 L577.20,426.68 L578.00,427.80 L578.80,429.03 L579.60,429.39 L580.00,429.89 L580.40,429.56 L581.20,430.45 L582.00,431.82 L582.80,432.97 L583.60,433.65 L584.40,434.81 L585.20,434.64 L586.00,435.31 L586.80,436.39 L587.60,436.65 L588.40,437.30 L589.20,437.53 L590.00,439.11 L590.00,438.08 L590.80,439.44 L591.60,439.20 L592.40,440.97 L593.20,440.67 L594.00,442.19 L594.80,441.80 L595.60,443.05 L596.40,444.53 L597.20,444.39 L598.00,445.53 L598.80,446.02 L599.60,445.91 L600.00,447.43 L600.40,447.83 L601.20,447.83 L602.00,449.30 L602.80,449.41 L603.60,450.05 L604.40,451.26 L605.20,451.70 L606.00,453.79 L606.80,452.82 L607.60,454.60 L608.40,455.45 L609.20,454.85 L610.00,455.69 L610.00,456.73 L610.80,456.98 L611.60,458.09 L612.40,459.16 L613.20,459.23 L614.00,459.67 L614.80,459.68 L615.60,461.76 L616.40,461.99 L617.20,463.26 L618.00,463.91 L618.80,463.84 L619.60,465.88 L620.00,465.87 L620.40,466.06 L621.20,465.80 L622.00,466.82 L622.80,467.46 L623.60,468.24 L624.40,468.66 L625.20,470.12 L626.00,470.79 L626.80,471.61 L627.60,471.97 L628.40,473.51 L629.20,473.71 L630.00,473.08 L630.00,474.02 L630.80,474.91 L631.60,475.98 L632.40,476.02 L633.20,476.64 L634.00,477.04 L634.80,478.23 L635.60,478.31 L636.40,478.83 L637.20,479.36 L638.00,480.55 L638.80,480.68 L639.60,480.79 L640.00,482.15 L640.40,481.90 L641.20,483.04 L642.00,483.71 L642.80,484.75 L643.60,485.35 L644.40,485.28 L645.20,486.12 L646.00,486.26 L646.80,488.23 L647.60,488.30 L648.40,489.35 L649.20,489.19 L650.00,489.03 L650.00,490.64 L650.80,490.63 L651.60,491.31 L652.40,491.95 L653.20,492.91 L654.00,493.56 L654.80,493.31 L655.60,495.20 L656.40,495.14 L657.20,495.82 L658.00,497.43 L658.80,497.67 L659.60,497.69 L660.00,497.27 L660.40,498.42 L661.20,499.13 L662.00,499.37 L662.80,499.36 L663.60,500.08 L664.40,500.39 L665.20,501.60 L666.00,502.45 L666.80,503.14 L667.60,502.99 L668.40,504.09 L669.20,504.90 L670.00,505.08 L670.00,505.34 L670.80,506.96 L671.60,506.64 L672.40,507.42 L673.20,507.26 L674.00,507.87 L674.80,507.47 L675.60,508.63 L676.40,509.58 L677.20,510.42 L678.00,510.45 L678.80,510.66 L679.60,510.80 L680.00,510.71 L680.40,511.11 L681.20,511.88 L682.00,511.68 L682.80,512.90 L683.60,512.50 L684.40,512.61 L685.20,513.42 L686.00,513.59 L686.80,514.17 L687.60,515.72 L688.40,515.51 L689.20,516.08 L690.00,516.87 L690.80,517.29 L691.60,516.87 L692.40,518.07 L692.60,517.74"/>
<path stroke="#008000" d="M148.70,429.70 L149.50,427.95 L150.30,426.70 L151.10,425.05 L151.90,424.31 L152.70,423.08 L153.00,422.18 L153.50,422.31 L154.30,419.23 L155.10,418.49 L155.90,418.04 L156.70,415.54 L157.50,413.50 L158.30,413.56 L158.30,413.09 L159.10,410.82 L159.90,410.45 L160.70,408.22 L161.50,406.76 L162.30,406.08 L163.10,404.65 L163.90,403.07 L164.70,402.18 L165.00,401.37 L165.50,401.10 L166.30,399.80 L167.10,398.95 L167.90,397.14 L168.70,395.51 L169.50,394.34 L170.30,393.72 L171.10,393.47 L171.70,392.27 L171.90,391.23 L172.70,390.89 L173.50,388.72 L174.30,388.71 L175.10,386.92 L175.90,386.41 L176.70,385.26 L177.50,383.74 L178.30,382.97 L178.30,382.24 L179.10,381.68 L179.90,381.23 L180.70,381.72 L181.50,379.01 L182.30,377.71 L183.10,376.16 L183.90,376.22 L184.70,373.88 L185.00,373.94 L185.50,373.94 L186.30,372.27 L187.10,372.80 L187.90,371.78 L188.70,370.21 L189.50,369.51 L190.30,368.47 L190.30,368.48 L191.10,368.75 L191.90,368.20 L192.70,367.45 L193.50,366.79 L194.30,365.78 L194.30,366.18 L195.10,364.69 L195.90,364.88 L196.70,365.11 L197.50,364.57 L198.30,363.24 L198.30,363.33 L199.10,363.81 L199.90,363.65 L200.70,361.66 L201.50,361.87 L202.30,361.89 L203.10,362.08 L203.90,360.76 L204.30,361.38 L204.70,360.78 L205.50,361.86 L206.25,360.64 L206.30,360.35 L207.10,360.01 L207.90,360.48 L208.70,360.07 L209.50,358.98 L210.30,359.44 L211.10,358.46 L211.90,358.56 L212.50,358.12 L212.70,357.98 L213.50,358.09 L214.30,357.74 L215.10,358.33 L215.90,358.33 L216.70,357.73 L217.50,357.26 L217.50,358.25 L218.30,356.90 L219.10,357.07 L219.90,358.55 L220.70,358.69 L221.50,359.03 L222.30,358.61 L223.10,358.25 L223.90,358.78 L224.70,359.45 L225.00,358.82 L225.50,358.92 L226.30,358.71 L227.10,358.98 L227.90,360.18 L228.70,360.19 L229.50,359.60 L230.30,359.88 L231.10,360.37 L231.25,360.98 L231.90,360.28 L232.70,360.98 L233.50,360.19 L234.30,360.84 L235.10,361.89 L235.90,362.36 L236.70,361.58 L237.50,362.05 L237.50,362.86 L238.30,362.59 L239.10,362.86 L239.90,363.74 L240.70,363.93 L241.50,364.73 L242.30,364.89 L243.10,364.52 L243.75,364.99 L243.90,365.06 L244.70,364.71 L245.50,365.20 L246.30,366.47 L247.10,365.46 L247.90,367.02 L248.70,366.93 L249.50,366.99 L250.00,367.50 L250.30,367.56 L251.10,368.24 L251.90,367.75 L252.70,368.15 L253.50,368.45 L254.30,369.81 L255.10,369.63 L255.90,368.97 L256.25,369.37 L256.70,369.34 L257.50,370.01 L258.30,370.44 L259.10,371.84 L259.90,370.17 L260.70,372.02 L261.50,372.16 L262.30,372.03 L262.50,372.48 L263.10,372.63 L263.90,373.28 L264.70,374.10 L265.50,373.16 L266.30,374.90 L267.10,374.39 L267.90,375.67 L268.70,375.49 L268.75,375.95 L269.50,375.98 L270.30,376.62 L271.10,376.47 L271.90,376.38 L272.70,377.48 L273.50,377.83 L274.30,378.85 L275.00,377.09 L275.10,378.04 L275.90,379.01 L276.70,378.19 L277.50,379.03 L278.30,380.54 L279.10,380.51 L279.90,379.68 L280.70,381.16 L281.25,381.29 L281.50,381.22 L282.30,381.35 L283.10,381.58 L283.90,381.30 L284.70,381.73 L285.50,382.58 L286.30,382.49 L287.10,383.55 L287.50,382.55 L287.90,381.62 L288.70,382.88 L289.50,383.42 L290.30,383.70 L291.10,383.77 L291.90,383.53 L292.70,384.87 L293.50,383.95 L293.75,384.65 L294.30,384.22 L295.10,383.88 L295.90,385.31 L296.70,383.46 L297.50,384.40 L298.30,385.15 L299.10,384.86 L299.90,385.52 L300.00,385.07 L300.70,385.01 L301.50,386.48 L302.30,385.49 L303.10,385.74 L303.90,385.52 L304.70,385.92 L305.50,386.85 L306.30,387.00 L307.10,386.90 L307.90,386.70 L308.70,387.54 L309.50,386.49 L310.30,387.30 L311.10,387.47 L311.90,387.28 L312.50,387.84 L312.70,387.40 L313.50,387.35 L314.30,388.65 L315.10,388.13 L315.90,388.39 L316.70,387.89 L317.50,388.45 L318.30,388.49 L319.10,388.86 L319.90,389.57 L320.70,388.40 L321.50,388.73 L322.30,388.64 L323.10,386.96 L323.90,388.06 L324.70,388.80 L325.00,389.11 L325.50,388.52 L326.30,389.39 L327.10,389.47 L327.90,388.62 L328.70,389.52 L329.50,389.67 L330.30,389.02 L331.10,388.30 L331.90,389.54 L332.70,388.76 L333.50,388.70 L334.30,389.00 L335.10,388.73 L335.90,389.60 L336.70,389.52 L337.50,389.80 L337.50,389.53 L338.30,388.87 L339.10,389.18 L339.90,389.66 L340.70,388.96 L341.50,390.53 L342.30,388.84 L343.10,388.55 L343.75,389.31 L343.90,389.04 L344.70,388.55 L345.50,388.35 L346.30,388.59 L347.10,388.71 L347.90,388.59 L348.70,387.98 L349.50,388.28 L350.00,388.44 L350.30,388.38 L351.10,386.37 L351.90,387.36 L352.70,387.30 L353.50,387.43 L354.30,387.48 L355.10,387.68 L355.90,387.34 L356.70,386.77 L357.50,386.65 L358.30,387.32 L359.10,385.96 L359.90,386.27 L360.70,386.78 L361.50,386.08 L362.30,384.82 L362.50,386.05 L363.10,385.63 L363.90,385.70 L364.70,386.20 L365.50,385.82 L366.30,385.37 L367.10,385.87 L367.90,385.58 L368.70,385.35 L369.50,385.39 L370.30,385.30 L371.10,384.94 L371.90,384.80 L372.70,384.94 L373.50,384.35 L374.30,384.08 L375.00,385.24 L375.10,384.47 L375.90,384.42 L376.70,384.21 L377.50,384.13 L378.30,383.97 L379.10,383.83 L379.90,383.23 L380.70,383.91 L381.50,382.89 L382.30,383.52 L383.10,381.79 L383.90,381.94 L384.70,382.67 L385.50,381.80 L386.30,381.23 L387.10,381.45 L387.50,380.55 L387.90,380.95 L388.70,379.54 L389.50,380.19 L390.30,379.87 L391.10,380.27 L391.90,380.25 L392.70,379.19 L393.50,380.22 L394.30,378.91 L395.10,377.94 L395.90,377.51 L396.70,379.18 L397.50,378.06 L398.30,377.45 L399.10,377.08 L399.90,376.59 L400.00,377.73 L400.70,376.80 L401.50,377.53 L402.30,376.37 L403.10,375.15 L403.90,376.61 L404.70,375.85 L405.50,375.73 L406.30,376.42 L407.10,375.26 L407.90,375.71 L408.70,374.85 L409.50,374.20 L410.00,374.64 L410.30,373.96 L411.10,374.59 L411.90,374.14 L412.70,373.35 L413.50,373.26 L414.30,372.84 L415.10,372.01 L415.90,372.18 L416.70,371.23 L417.00,371.50 L417.50,370.52 L418.30,370.75 L419.10,370.64 L419.50,369.96 L419.90,370.05 L420.70,369.73 L421.50,370.07 L422.30,369.03 L423.10,369.29 L423.90,369.50 L424.70,368.58 L425.00,367.45 L425.50,368.13 L426.30,368.30 L427.10,367.37 L427.90,367.79 L428.70,367.27 L429.50,366.89 L430.00,366.39 L430.30,366.18 L431.10,366.00 L431.90,365.85 L432.70,365.76 L433.50,365.39 L434.30,364.70 L435.10,364.55 L435.90,364.35 L436.70,362.95 L437.50,362.97 L438.30,362.52 L439.10,362.38 L439.90,361.90 L440.00,361.86 L440.70,361.19 L441.50,361.55 L442.30,360.94 L443.10,359.56 L443.90,359.94 L444.70,358.91 L445.50,359.84 L446.30,358.26 L447.10,357.78 L447.90,357.50 L448.70,356.84 L449.50,356.40 L450.00,356.87 L450.30,355.99 L451.10,355.84 L451.90,355.54 L452.70,354.07 L453.50,354.99 L454.30,354.10 L455.10,353.85 L455.90,352.57 L456.70,353.04 L457.50,352.47 L458.30,351.63 L459.10,352.70 L459.90,351.51 L460.00,351.11 L460.70,351.08 L461.50,351.18 L462.30,351.04 L463.10,350.53 L463.90,350.60 L464.70,350.46 L465.50,348.83 L466.30,348.90 L467.10,348.34 L467.90,348.52 L468.70,348.84 L469.50,348.07 L470.00,346.98 L470.30,347.20 L471.10,347.46 L471.90,346.28 L472.70,346.09 L473.50,345.89 L474.30,344.43 L475.10,345.36 L475.90,344.78 L476.70,344.56 L477.50,343.46 L478.30,343.25 L479.10,343.02 L479.90,343.13 L480.00,343.02 L480.70,342.74 L481.50,343.19 L482.30,342.56 L483.10,341.16 L483.90,340.80 L484.70,341.61 L485.50,340.23 L486.30,340.72 L486.70,340.63 L487.10,339.36 L487.90,339.13 L488.70,338.93 L489.50,338.08 L490.30,337.66 L491.10,337.60 L491.90,337.89 L492.70,336.94 L493.50,336.77 L494.30,336.36 L495.10,335.64 L495.90,336.81 L496.70,334.66 L497.50,335.28 L498.30,335.70 L499.10,334.55 L499.90,335.41 L500.00,335.80 L500.70,334.63 L501.50,335.01 L502.30,334.19 L503.10,334.83 L503.90,334.44 L504.70,334.34 L505.50,334.74 L506.30,334.12 L507.10,334.38 L507.90,333.83 L508.70,332.71 L509.50,333.22 L510.30,333.10 L511.10,331.91 L511.90,333.08 L512.70,332.22 L513.30,332.19 L513.50,331.45 L514.30,331.71 L515.10,331.59 L515.90,331.07 L516.70,331.09 L517.50,329.84 L518.30,331.49 L519.10,330.22 L519.90,329.70 L520.70,330.36 L521.50,330.49 L522.30,331.24 L523.10,330.55 L523.90,331.15 L524.70,330.51 L525.50,332.04 L526.30,331.14 L526.70,331.81 L527.10,325.77 L527.90,331.02 L528.70,330.11 L529.50,330.76 L530.30,330.69 L531.10,329.43 L531.90,329.55 L532.70,329.44 L533.50,329.19 L534.30,329.52 L535.10,329.37 L535.90,329.11 L536.70,329.86 L537.50,330.07 L538.30,329.14 L539.10,329.51 L539.90,329.81 L540.00,329.69 L540.70,329.50 L541.50,330.31 L542.30,330.41 L543.10,330.42 L543.90,330.06 L544.70,331.25 L545.50,331.21 L546.30,330.22 L547.10,330.43 L547.90,331.14 L548.70,330.18 L549.50,330.82 L550.30,330.67 L551.10,330.32 L551.90,330.60 L552.70,329.99 L553.30,330.57 L553.50,329.90 L554.30,332.18 L555.10,331.96 L555.90,331.99 L556.70,331.69 L557.50,332.19 L558.30,332.47 L559.10,332.48 L559.90,332.58 L560.70,331.81 L561.50,332.64 L562.30,332.32 L563.10,332.17 L563.90,332.35 L564.70,333.29 L565.50,333.76 L566.30,332.70 L566.70,334.33 L567.10,334.25 L567.90,333.47 L568.70,333.59 L569.50,333.95 L570.30,334.66 L571.10,334.18 L571.90,334.04 L572.70,334.98 L573.50,334.00 L574.30,335.32 L575.10,336.03 L575.90,335.79 L576.70,336.19 L577.50,336.20 L578.30,336.46 L579.10,336.32 L579.90,335.99 L580.00,336.21 L580.70,336.45 L581.50,337.36 L582.30,337.82 L583.10,337.53 L583.90,337.31 L584.70,337.71 L585.50,338.40 L586.30,339.62 L587.10,339.52 L587.90,339.74 L588.70,339.77 L589.50,340.96 L590.30,341.02 L591.10,341.19 L591.90,341.61 L592.70,342.75 L593.30,342.08 L593.50,343.05 L594.30,343.20 L595.10,343.01 L595.90,343.86 L596.70,343.82 L597.50,343.98 L598.30,344.82 L599.10,345.09 L599.90,346.42 L600.00,346.32 L600.70,347.14 L601.50,347.87 L602.30,346.47 L603.10,348.75 L603.90,348.25 L604.70,349.79 L605.00,349.46 L605.50,350.31 L606.30,351.57 L607.10,350.69 L607.90,352.34 L608.70,352.94 L609.50,352.79 L610.00,354.57 L610.30,354.59 L611.10,355.08 L611.90,355.71 L612.70,358.42 L613.50,357.35 L614.30,357.38 L615.00,358.47 L615.10,358.81 L615.90,359.61 L616.70,360.61 L617.50,361.02 L618.30,362.76 L619.10,363.22 L619.90,363.78 L620.00,364.23 L620.70,365.31 L621.50,366.91 L622.30,367.71 L623.10,368.27 L623.90,369.44 L624.70,370.56 L625.00,371.84 L625.50,371.17 L626.30,372.76 L627.10,373.95 L627.90,374.16 L628.70,375.79 L629.50,376.84 L630.00,377.19 L630.30,378.12 L631.10,379.49 L631.90,380.71 L632.70,381.24 L633.50,382.63 L634.30,384.91 L635.00,384.21 L635.10,385.01 L635.90,386.46 L636.70,387.18 L637.50,388.51 L638.30,389.34 L639.10,390.72 L639.90,392.11 L640.00,391.46 L640.70,392.70 L641.50,393.79 L642.30,394.85 L643.10,396.29 L643.90,397.00 L644.70,399.21 L645.00,400.22 L645.50,401.03 L646.30,402.06 L647.10,402.16 L647.90,404.59 L648.70,404.64 L649.50,406.14 L650.00,407.81 L650.30,406.79 L651.10,408.98 L651.90,409.97 L652.70,411.07 L653.50,412.05 L654.30,414.06 L655.00,414.83 L655.10,415.82 L655.90,417.29 L656.70,417.37 L657.50,419.19 L658.30,420.65 L659.10,421.55 L659.90,422.89 L660.00,423.60 L660.70,424.53 L661.50,425.04 L662.30,426.83 L663.10,428.61 L663.90,429.01 L664.70,430.43 L665.50,432.98 L666.30,434.15 L667.10,433.98 L667.90,435.42 L668.70,437.58 L669.50,438.08 L670.00,439.36 L670.30,439.75 L671.10,441.50 L671.90,441.16 L672.70,442.48 L673.50,444.08 L674.30,446.27 L675.10,446.73 L675.90,446.99 L676.70,449.11 L677.50,450.25 L678.30,450.80 L679.10,451.79 L679.90,453.22 L680.00,453.75 L680.70,454.16 L681.50,455.41 L682.30,456.17 L683.10,457.04 L683.90,457.81 L684.70,459.41 L685.50,460.13 L686.30,461.16 L687.10,462.73 L687.90,463.48 L688.70,464.63 L689.50,464.35 L690.30,466.33 L691.10,466.66 L691.90,467.43 L692.60,468.17"/>
</g>
<g fill="#4a4a4a">
<rect x="100" y="272.44" width="1" height="5.56"/>
<rect x="100" y="61" width="1" height="5.56"/>
<rect x="178" y="272.44" width="1" height="5.56"/>
<rect x="178" y="61" width="1" height="5.56"/>
<rect x="255" y="272.44" width="1" height="5.56"/>
<rect x="255" y="61" width="1" height="5.56"/>
<rect x="333" y="272.44" width="1" height="5.56"/>
<rect x="333" y="61" width="1" height="5.56"/>
<rect x="410" y="272.44" width="1" height="5.56"/>
<rect x="410" y="61" width="1" height="5.56"/>
<rect x="488" y="272.44" width="1" height="5.56"/>
<rect x="488" y="61" width="1" height="5.56"/>
<rect x="565" y="272.44" width="1" height="5.56"/>
<rect x="565" y="61" width="1" height="5.56"/>
<rect x="643" y="272.44" width="1" height="5.56"/>
<rect x="643" y="61" width="1" height="5.56"/>
<rect x="720" y="272.44" width="1" height="5.56"/>
<rect x="720" y="61" width="1" height="5.56"/>
<rect x="101" y="278" width="5.56" height="1"/>
<rect x="714.44" y="278" width="5.56" height="1"/>
<rect x="101" y="247" width="5.56" height="1"/>
<rect x="714.44" y="247" width="5.56" height="1"/>
<rect x="101" y="216" width="5.56" height="1"/>
<rect x="714.44" y="216" width="5.56" height="1"/>
<rect x="101" y="185" width="5.56" height="1"/>
<rect x="714.44" y="185" width="5.56" height="1"/>
<rect x="101" y="154" width="5.56" height="1"/>
<rect x="714.44" y="154" width="5.56" height="1"/>
<rect x="101" y="122" width="5.56" height="1"/>
<rect x="714.44" y="122" width="5.56" height="1"/>
<rect x="101" y="91" width="5.56" height="1"/>
<rect x="714.44" y="91" width="5.56" height="1"/>
<rect x="101" y="60" width="5.56" height="1"/>
<rect x="714.44" y="60" width="5.56" height="1"/>
<rect x="100" y="534.44" width="1" height="5.56"/>
<rect x="100" y="323" width="1" height="5.56"/>
<rect x="178" y="534.44" width="1" height="5.56"/>
<rect x="178" y="323" width="1" height="5.56"/>
<rect x="255" y="534.44" width="1" height="5.56"/>
<rect x="255" y="323" width="1" height="5.56"/>
<rect x="333" y="534.44" width="1" height="5.56"/>
<rect x="333" y="323" width="1" height="5.56"/>
<rect x="410" y="534.44" width="1" height="5.56"/>
<rect x="410" y="323" width="1" height="5.56"/>
<rect x="488" y="534.44" width="1" height="5.56"/>
<rect x="488" y="323" width="1" height="5.56"/>
<rect x="565" y="534.44" width="1" height="5.56"/>
<rect x="565" y="323" width="1" height="5.56"/>
<rect x="643" y="534.44" width="1" height="5.56"/>
<rect x="643" y="323" width="1" height="5.56"/>
<rect x="720" y="534.44" width="1" height="5.56"/>
<rect x="720" y="323" width="1" height="5.56"/>
<rect x="101" y="540" width="5.56" height="1"/>
<rect x="714.44" y="540" width="5.56" height="1"/>
<rect x="101" y="513" width="5.56" height="1"/>
<rect x="714.44" y="513" width="5.56" height="1"/>
<rect x="101" y="485" width="5.56" height="1"/>
<rect x="714.44" y="485" width="5.56" height="1"/>
<rect x="101" y="458" width="5.56" height="1"/>
<rect x="714.44" y="458" width="5.56" height="1"/>
<rect x="101" y="431" width="5.56" height="1"/>
<rect x="714.44" y="431" width="5.56" height="1"/>
<rect x="101" y="404" width="5.56" height="1"/>
<rect x="714.44" y="404" width="5.56" height="1"/>
<rect x="101" y="376" width="5.56" height="1"/>
<rect x="714.44" y="376" width="5.56" height="1"/>
<rect x="101" y="349" width="5.56" height="1"/>
<rect x="714.44" y="349" width="5.56" height="1"/>
<rect x="101" y="322" width="5.56" height="1"/>
<rect x="714.44" y="322" width="5.56" height="1"/>
</g>
<g fill="#000">
<rect x="99.805" y="59.805" width="621.39" height="1.3900000000000001"/>
<rect x="99.805" y="277.805" width="621.39" height="1.3900000000000001"/>
<rect x="99.805" y="59.805" width="1.3900000000000001" height="219.39"/>
<rect x="719.805" y="59.805" width="1.3900000000000001" height="219.39"/>
<rect x="99.805" y="321.805" width="621.39" height="1.3900000000000001"/>
<rect x="99.805" y="539.805" width="621.39" height="1.3900000000000001"/>
<rect x="99.805" y="321.805" width="1.3900000000000001" height="219.39"/>
<rect x="719.805" y="321.805" width="1.3900000000000001" height="219.39"/>
</g>
<rect x="594.5" y="66.5" width="120" height="34" fill="#fff" stroke="#000" stroke-width="1.39"/>
<rect x="106.5" y="500.5" width="119" height="34" fill="#fff" stroke="#000" stroke-width="1.39"/>
<line x1="601.6" y1="74.5" x2="619.3" y2="74.5" stroke="#f00" stroke-width="1.3"/>
<line x1="601.6" y1="90.5" x2="619.3" y2="90.5" stroke="#008000" stroke-width="1.3"/>
<line x1="112.6" y1="509.5" x2="130.3" y2="509.5" stroke="#f00" stroke-width="1.3"/>
<line x1="112.6" y1="524.5" x2="130.3" y2="524.5" stroke="#008000" stroke-width="1.3"/>
<g>
<text transform="translate(170.30,52.90) scale(1.1091,1)" x="0.00 11.60 16.46 27.98 39.28 45.22 50.77 55.88 70.44 76.29 87.95 99.39 110.96 122.45 133.97 145.50 150.05 163.01 175.21 180.25 185.18 197.15 203.12 215.72 222.09 233.27 244.84 249.74 264.90 276.15 282.56 292.12 303.36 315.45 321.51 331.75 343.00 348.46 358.32 369.57 380.43 391.41 398.48 405.31 417.19" y="0" font-size="20.45">gl48, ID:139677 Calibrated On-source spectrum</text>
<text transform="translate(339.41,576.20) scale(1.0519,1)" x="0.00 8.55 14.18 24.01 34.17 44.18 54.13 63.81 73.09 82.26 86.98 93.09 106.89 119.06 127.65" y="0" font-size="17.27">Frequency (MHz)</text>
<text transform="rotate(-90) translate(-230.99,56.3) scale(1.0515,1)" x="0.00 8.84 18.66 31.43 41.70 47.64 52.82 57.15 67.02 71.66 81.55 91.44 95.90 105.16 109.43" y="0" font-size="17.27">Power in Kelvin</text>
<text transform="translate(79.20,295.10) scale(1.0833,1)" x="0.00 9.50 19.19 28.82" y="0" font-size="17.27">1414</text>
<text transform="translate(156.69,295.10) scale(1.0877,1)" x="0.00 9.45 19.10 28.82" y="0" font-size="17.27">1416</text>
<text transform="translate(234.20,295.10) scale(1.0850,1)" x="0.00 9.48 19.16 28.82" y="0" font-size="17.27">1418</text>
<text transform="translate(311.70,295.10) scale(1.0836,1)" x="0.00 9.50 19.08 28.82" y="0" font-size="17.27">1420</text>
<text transform="translate(389.21,295.10) scale(1.0739,1)" x="0.00 9.62 19.28 28.82" y="0" font-size="17.27">1422</text>
<text transform="translate(466.70,295.10) scale(1.0833,1)" x="0.00 9.50 19.09 28.82" y="0" font-size="17.27">1424</text>
<text transform="translate(544.19,295.10) scale(1.0877,1)" x="0.00 9.45 19.00 28.82" y="0" font-size="17.27">1426</text>
<text transform="translate(621.70,295.10) scale(1.0850,1)" x="0.00 9.48 19.05 28.82" y="0" font-size="17.27">1428</text>
<text transform="translate(699.20,295.10) scale(1.0836,1)" x="0.00 9.50 19.31 28.82" y="0" font-size="17.27">1430</text>
<text transform="translate(85.32,284.18) scale(1.0172,1)" x="0.00" y="0" font-size="17.27">0</text>
<text transform="translate(73.56,253.01) scale(1.0544,1)" x="0.00 9.61" y="0" font-size="17.27">50</text>
<text transform="translate(63.51,221.84) scale(1.0763,1)" x="0.00 9.59 19.21" y="0" font-size="17.27">100</text>
<text transform="translate(63.51,190.68) scale(1.0763,1)" x="0.00 9.53 19.21" y="0" font-size="17.27">150</text>
<text transform="translate(62.38,159.51) scale(1.0811,1)" x="0.00 9.65 19.21" y="0" font-size="17.27">200</text>
<text transform="translate(62.28,128.34) scale(1.0811,1)" x="0.00 9.59 19.21" y="0" font-size="17.27">250</text>
<text transform="translate(63.76,97.17) scale(1.0710,1)" x="0.00 9.52 19.21" y="0" font-size="17.27">300</text>
<text transform="translate(63.86,66.00) scale(1.0710,1)" x="0.00 9.46 19.21" y="0" font-size="17.27">350</text>
<text transform="translate(79.20,556.90) scale(1.0850,1)" x="0.00 9.51 19.21 28.82" y="0" font-size="17.27">1398</text>
<text transform="translate(156.70,556.90) scale(1.0836,1)" x="0.00 9.50 19.28 28.82" y="0" font-size="17.27">1400</text>
<text transform="translate(234.21,556.90) scale(1.0739,1)" x="0.00 9.62 19.49 28.82" y="0" font-size="17.27">1402</text>
<text transform="translate(311.70,556.90) scale(1.0833,1)" x="0.00 9.50 19.29 28.82" y="0" font-size="17.27">1404</text>
<text transform="translate(389.19,556.90) scale(1.0877,1)" x="0.00 9.45 19.20 28.82" y="0" font-size="17.27">1406</text>
<text transform="translate(466.70,556.90) scale(1.0850,1)" x="0.00 9.48 19.25 28.82" y="0" font-size="17.27">1408</text>
<text transform="translate(544.20,556.90) scale(1.0836,1)" x="0.00 9.50 19.19 28.82" y="0" font-size="17.27">1410</text>
<text transform="translate(621.71,556.90) scale(1.0739,1)" x="0.00 9.62 19.39 28.82" y="0" font-size="17.27">1412</text>
<text transform="translate(699.20,556.90) scale(1.0833,1)" x="0.00 9.50 19.19 28.82" y="0" font-size="17.27">1414</text>
<text transform="translate(73.25,546.00) scale(1.0686,1)" x="0.00 9.61" y="0" font-size="17.27">20</text>
<text transform="translate(73.38,518.73) scale(1.0533,1)" x="0.00 9.61" y="0" font-size="17.27">30</text>
<text transform="translate(74.29,491.45) scale(1.0632,1)" x="0.00 9.61" y="0" font-size="17.27">40</text>
<text transform="translate(73.36,464.18) scale(1.0544,1)" x="0.00 9.61" y="0" font-size="17.27">50</text>
<text transform="translate(73.02,436.91) scale(1.0724,1)" x="0.00 9.61" y="0" font-size="17.27">60</text>
<text transform="translate(73.23,409.64) scale(1.0614,1)" x="0.00 9.61" y="0" font-size="17.27">70</text>
<text transform="translate(73.13,382.36) scale(1.0666,1)" x="0.00 9.61" y="0" font-size="17.27">80</text>
<text transform="translate(74.43,355.09) scale(1.0747,1)" x="0.00 9.61" y="0" font-size="17.27">90</text>
<text transform="translate(63.71,327.82) scale(1.0763,1)" x="0.00 9.59 19.21" y="0" font-size="17.27">100</text>
<text transform="translate(629.00,77.84) scale(1.0097,1)" x="0.00 7.33 15.22 22.18 25.35 30.49 36.55 42.77 48.71 55.73 62.65 66.21 73.29" y="0" font-size="11.77">XX1 Tsys77.18</text>
<text transform="translate(629.02,92.93) scale(0.9837,1)" x="0.00 6.63 14.20 21.25 24.50 29.72 35.87 42.19 48.27 55.35 62.38 66.07 73.29" y="0" font-size="11.77">YY1 Tsys85.79</text>
<text transform="translate(141.00,511.84) scale(1.0108,1)" x="0.00 7.34 15.16 22.22 25.39 30.54 36.60 42.83 48.76 55.81 62.74 66.33 73.29" y="0" font-size="11.77">XX2 Tsys57.57</text>
<text transform="translate(141.01,527.84) scale(0.9860,1)" x="0.00 6.66 14.18 21.34 24.61 29.84 36.02 42.36 48.46 55.56 62.62 66.36 73.29" y="0" font-size="11.77">YY2 Tsys81.62</text>
</g>
</svg>
</body></html>
